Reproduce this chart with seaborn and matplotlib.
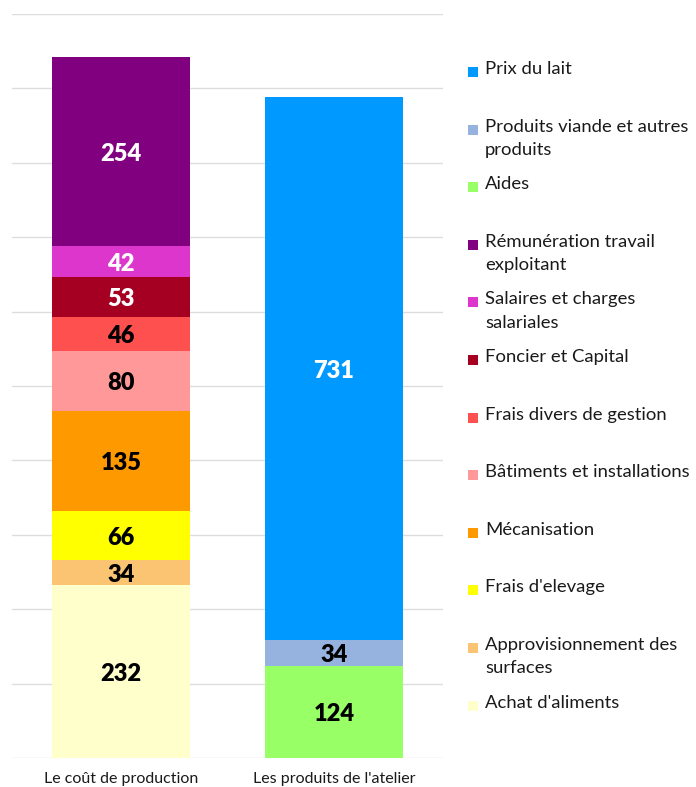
import matplotlib
matplotlib.use("Agg")
import matplotlib.pyplot as plt
import matplotlib.patches as mpatches
import seaborn as sns
import pandas as pd

# bars (x categories)
bars = ["Le coût de production", "Les produits de l'atelier"]

# segments, in legend order (top of each bar first)
segments = [
    "Prix du lait",
    "Produits viande et autres produits",
    "Aides",
    "Rémunération travail exploitant",
    "Salaires et charges salariales",
    "Foncier et Capital",
    "Frais divers de gestion",
    "Bâtiments et installations",
    "Mécanisation",
    "Frais d'elevage",
    "Approvisionnement des surfaces",
    "Achat d'aliments",
]
legend_labels = [
    "Prix du lait",
    "Produits viande et autres\nproduits",
    "Aides",
    "Rémunération travail\nexploitant",
    "Salaires et charges\nsalariales",
    "Foncier et Capital",
    "Frais divers de gestion",
    "Bâtiments et installations",
    "Mécanisation",
    "Frais d'elevage",
    "Approvisionnement des\nsurfaces",
    "Achat d'aliments",
]
segment_bar = [1, 1, 1, 0, 0, 0, 0, 0, 0, 0, 0, 0]
values = [731, 34, 124, 254, 42, 53, 46, 80, 135, 66, 34, 232]
colors = ["#0099FF", "#95B3DE", "#99FF66", "#800080", "#DD36CC", "#A50021",
          "#FF5050", "#FF9999", "#FF9900", "#FFFF00", "#FAC472", "#FFFFCC"]
label_colors = ["white", "black", "black", "white", "white", "white",
                "black", "black", "black", "black", "black", "black"]

# build stacking table: bottom of bar = last segment of that bar
rows = []
running = {0: 0, 1: 0}
for i in reversed(range(len(segments))):
    b = segment_bar[i]
    base = running[b]
    running[b] += values[i]
    rows.append({"segment": segments[i], "bar": bars[b], "pos": b,
                 "base": base, "top": running[b], "value": values[i],
                 "color": colors[i], "tcolor": label_colors[i]})
df = pd.DataFrame(rows)

sns.set_theme(style="white")
plt.rcParams["font.family"] = ["Lato", "DejaVu Sans"]

fig = plt.figure(figsize=(6.96, 7.87), dpi=100)
ax = fig.add_axes([12 / 696, 29 / 787, 431 / 696, 744 / 787])

# draw cumulative tops, tallest first, so lower segments paint over
for _, r in df.sort_values("top", ascending=False).iterrows():
    sns.barplot(data=pd.DataFrame([r]), x="bar", y="top", order=bars,
                color=r["color"], saturation=1, width=0.648,
                linewidth=0, errorbar=None, ax=ax, zorder=3)

for _, r in df.iterrows():
    ax.text(r["pos"], r["base"] + r["value"] / 2 - 3, str(r["value"]),
            ha="center", va="center", fontsize=17, fontweight="heavy",
            color=r["tcolor"], zorder=4)

ax.set_xlim(-0.512, 1.512)
ax.set_ylim(0, 1000)
ax.set_yticks(range(0, 1001, 100))
ax.set_yticklabels([])
ax.yaxis.grid(True, color="#DDDDDD", linewidth=1)
ax.set_axisbelow(True)
for s in ax.spines.values():
    s.set_visible(False)
ax.set_xlabel("")
ax.set_ylabel("")
ax.tick_params(axis="x", length=0, pad=10, labelsize=11.5, labelcolor="#1a1a1a")
ax.tick_params(axis="y", length=0)

# legend, one slot per entry, text aligned to the top
top_px = 72
step_px = 57.6
for i, lab in enumerate(legend_labels):
    yc = 1 - (top_px + i * step_px) / 787
    fig.add_artist(mpatches.Rectangle((468 / 696, yc - 5 / 787), 10 / 696, 10 / 787,
                                      transform=fig.transFigure,
                                      facecolor=colors[i], edgecolor="none"))
    fig.text(485 / 696, yc + 11 / 787, lab, ha="left", va="top", fontsize=13.3,
             color="#1a1a1a", linespacing=1.55)

fig.savefig("out.png", dpi=100)
